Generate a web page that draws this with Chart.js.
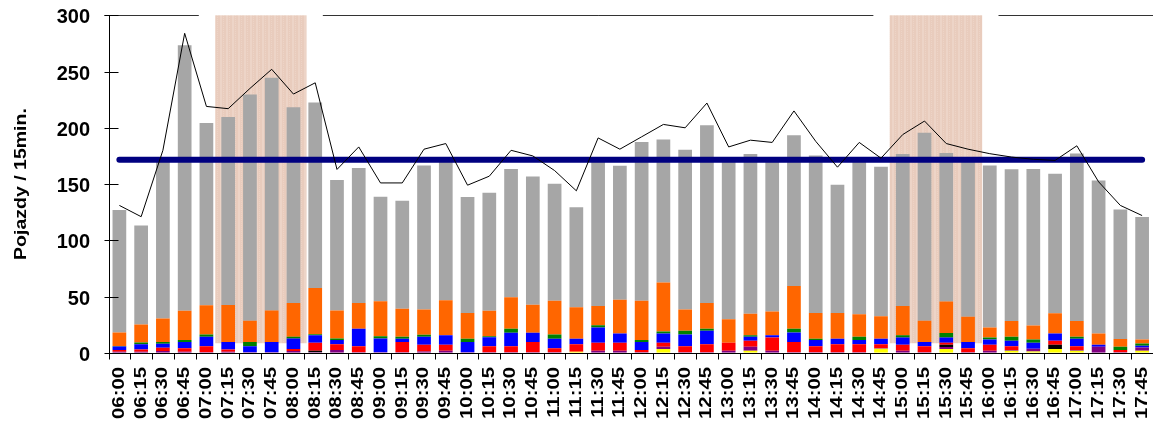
<!DOCTYPE html>
<html>
<head>
<meta charset="utf-8">
<script src="https://cdn.jsdelivr.net/npm/chart.js@4.4.1/dist/chart.umd.min.js"></script>
<style>
  html, body { margin: 0; padding: 0; background: #fff; }
  canvas { display: block; }
</style>
</head>
<body>
<canvas id="chart" width="1153" height="423"></canvas>
<script>
// 15-minute intervals
const labels = ['06:00', '06:15', '06:30', '06:45', '07:00', '07:15', '07:30', '07:45',
  '08:00', '08:15', '08:30', '08:45', '09:00', '09:15', '09:30', '09:45',
  '10:00', '10:15', '10:30', '10:45', '11:00', '11:15', '11:30', '11:45',
  '12:00', '12:15', '12:30', '12:45', '13:00', '13:15', '13:30', '13:45',
  '14:00', '14:15', '14:30', '14:45', '15:00', '15:15', '15:30', '15:45',
  '16:00', '16:15', '16:30', '16:45', '17:00', '17:15', '17:30', '17:45'];

// stacked segments, bottom to top
const yellowVals = [0, 0, 0, 0, 0, 0, 0, 0, 0, 0, 0, 0, 0, 0, 0, 0,
  0, 0, 0, 0, 0, 0.9, 0, 0, 0, 3.3, 0, 0, 0, 1.8, 0, 0,
  0, 0, 0, 3.5, 0, 0, 3.3, 0, 0, 1.8, 1.2, 3.3, 1.8, 0, 0, 1.8];
const purpleVals = [1, 1, 1.5, 0.9, 0.6, 0.9, 0.6, 0.6, 1.5, 0.6, 2.4, 0.6, 0.6, 0.6, 1.2, 1.8,
  0.6, 0.6, 0.6, 0.6, 0.6, 0, 1.8, 1.8, 0.6, 2, 0.6, 0.6, 1.8, 3.5, 1.8, 0.6,
  0.6, 0.6, 0.6, 0.6, 1.8, 0.6, 1.8, 0.6, 1.8, 0.6, 2.3, 0, 0.6, 5.3, 0.6, 2.9];
const blackVals = [0, 0, 0, 0, 0, 0, 0, 0, 0, 1.2, 0, 0, 0, 0, 0, 0,
  0, 0, 0, 0, 0, 0, 0, 0, 0, 0, 0, 0, 0, 0, 0, 0,
  0, 0, 0, 0, 0, 0, 2, 0, 0, 0, 0, 3.8, 0, 0, 0, 0];
const redVals = [1.5, 2, 3, 3.2, 5.3, 2.1, 0, 0, 1.8, 7.1, 5.3, 5.3, 0, 8.9, 5.9, 5.3,
  0, 5.3, 5.3, 8.9, 3.5, 6.8, 7.1, 7.1, 1.8, 3.6, 5.3, 7.1, 7.1, 5.4, 11.8, 8.9,
  5.3, 7.1, 7.1, 3.6, 5.3, 5.3, 1.8, 3.5, 5.3, 3.5, 0, 3.6, 3.5, 0, 1.8, 0];
const blueVals = [3, 4.7, 3.5, 5.4, 8.3, 6.5, 5.3, 8.9, 9.4, 6.8, 3.6, 15.4, 12.1, 2.9, 7.1, 8.6,
  8.9, 8, 11.9, 8.3, 8.3, 4.7, 13.6, 8.3, 7.1, 8.3, 10.4, 11.9, 0, 3.5, 2.1, 8.6,
  5.4, 4.7, 3.6, 4.7, 6.5, 3.6, 4.7, 5.4, 4.7, 4.8, 5.4, 6.5, 6.5, 1.8, 0, 1.5];
const greenVals = [0.5, 1.5, 1.5, 1.8, 2.1, 0, 3.6, 0, 1.5, 0.9, 1.4, 0, 2.1, 1.8, 1.8, 0,
  2.9, 0.9, 3.5, 0, 3.9, 0, 2.1, 0, 1.8, 1.8, 3.3, 1.7, 0, 1.5, 0, 3.2,
  1.1, 0, 2.9, 0, 2.1, 0, 3.9, 0, 1.8, 3.5, 2.9, 0, 1.8, 0, 2.9, 2.1];
const orangeVals = [12, 16, 21, 26, 26, 33, 19, 28, 30, 41, 25, 23, 31, 25, 22.5, 31,
  23, 22.5, 28, 25, 30, 28, 17, 30, 35, 43.5, 19, 23, 21, 19, 21, 38,
  23, 23, 20, 20, 26, 19, 28, 22.5, 9, 14, 12.5, 18, 14, 10, 7, 3.5];
const greyVals = [109, 88, 141, 236, 162, 167, 201, 207, 174, 165, 116, 120, 93, 96, 128, 123,
  103, 105, 114, 114, 104, 89, 128, 119, 141, 127, 142, 158, 141, 142, 134, 134,
  140, 114, 139, 133, 135, 167, 132, 140, 144, 135, 139, 124, 149, 136, 115, 109];

// thin black line and the flat average
const lineVals = [131, 121, 180, 284, 219, 217, 235, 252, 230, 240, 163, 183, 151, 151, 181, 186,
  149, 157, 180, 175, 162, 144, 191, 181, 192, 203, 200, 222, 183, 189, 187, 215,
  188, 165, 187, 173, 194, 206, 186, 181, 177, 174, 172, 171, 184, 152, 131, 122];
const avgValue = 171.6;

const yTicks = [0, 50, 100, 150, 200, 250, 300];
// shaded peak periods, in category units
const peakRanges = [[4.4, 8.6], [35.4, 39.65]];

const FONT = '"Liberation Sans", Arial, sans-serif';

function makePattern() {
    const c = document.createElement('canvas');
    c.width = 6; c.height = 2;
    const g = c.getContext('2d');
    g.fillStyle = '#E9CCBD';
    g.fillRect(0, 0, 6, 2);
    g.fillStyle = '#EDD4C7';
    g.fillRect(4, 0, 2, 2);
    g.fillRect(1, 1, 1, 1);
    return c;
}

const axesPlugin = {
    id: 'axesPlugin',
    beforeDatasetsDraw(chart) {
        const { ctx, scales: { x, y } } = chart;
        ctx.save();
        ctx.fillStyle = ctx.createPattern(makePattern(), 'repeat');
        peakRanges.forEach(([a, b]) => {
            const x0 = x.getPixelForValue(a), x1 = x.getPixelForValue(b);
            const y0 = y.getPixelForValue(300), y1 = y.getPixelForValue(8.5);
            ctx.fillRect(x0, y0, x1 - x0, y1 - y0);
        });
        ctx.restore();
    },
    afterDatasetsDraw(chart) {
        const { ctx, chartArea, scales: { x, y } } = chart;
        const left = Math.round(chartArea.left) + 0.5;
        const y0 = Math.round(y.getPixelForValue(0)) + 0.5;
        const yTop = Math.round(y.getPixelForValue(300)) + 0.5;
        ctx.save();
        ctx.lineWidth = 1;

        // top line at 300 with gaps around the shaded blocks
        ctx.strokeStyle = '#333';
        let start = left - 5;
        peakRanges.forEach(([a, b]) => {
            const g0 = x.getPixelForValue(a - 0.75), g1 = x.getPixelForValue(b + 0.75);
            ctx.beginPath(); ctx.moveTo(start, yTop); ctx.lineTo(g0, yTop); ctx.stroke();
            start = g1;
        });
        ctx.beginPath(); ctx.moveTo(start, yTop); ctx.lineTo(chart.width, yTop); ctx.stroke();

        // axes
        ctx.strokeStyle = '#000';
        ctx.beginPath();
        ctx.moveTo(left, yTop); ctx.lineTo(left, y0);
        ctx.lineTo(chart.width, y0);
        ctx.stroke();

        // y ticks and labels
        ctx.font = 'bold 20px ' + FONT;
        ctx.fillStyle = '#000';
        ctx.textAlign = 'right';
        ctx.textBaseline = 'middle';
        yTicks.forEach(v => {
            const py = Math.round(y.getPixelForValue(v)) + 0.5;
            ctx.beginPath(); ctx.moveTo(left - 5, py); ctx.lineTo(left + 9, py); ctx.stroke();
            ctx.fillText(String(v), 90, py + 1.5);
        });

        // x ticks between categories
        for (let i = 0; i <= labels.length; i++) {
            const px = Math.round(x.getPixelForValue(i - 0.5)) + 0.5;
            ctx.beginPath(); ctx.moveTo(px, y0); ctx.lineTo(px, y0 + 6); ctx.stroke();
        }

        // x labels, rotated
        ctx.font = 'bold 16px ' + FONT;
        labels.forEach((lab, i) => {
            const px = x.getPixelForValue(i);
            ctx.save();
            ctx.translate(px, 367);
            ctx.rotate(-Math.PI / 2);
            ctx.scale(1.27, 1);
            ctx.textAlign = 'right';
            ctx.textBaseline = 'middle';
            ctx.fillText(lab, 0, 0);
            ctx.restore();
        });

        // y title
        ctx.font = 'bold 16px ' + FONT;
        ctx.save();
        ctx.translate(22, (chartArea.top + chartArea.bottom) / 2);
        ctx.rotate(-Math.PI / 2);
        ctx.scale(1.22, 1);
        ctx.textAlign = 'center';
        ctx.textBaseline = 'middle';
        ctx.fillText('Pojazdy / 15min.', 0, 0);
        ctx.restore();

        ctx.restore();
    }
};

const barSet = (data, color) => ({
    type: 'bar', data, backgroundColor: color, stack: 'v', order: 2,
    barPercentage: 0.63, categoryPercentage: 1.0, borderWidth: 0
});

new Chart(document.getElementById('chart'), {
    data: {
        labels,
        datasets: [
            barSet(yellowVals, '#FFFF00'),
            barSet(purpleVals, '#800080'),
            barSet(blackVals, '#000000'),
            barSet(redVals, '#FF0000'),
            barSet(blueVals, '#0000FF'),
            barSet(greenVals, '#008000'),
            barSet(orangeVals, '#FF6600'),
            barSet(greyVals, '#A6A6A6'),
            {
                type: 'line', data: labels.map(() => avgValue), stack: 'avg', order: 1,
                borderColor: '#000080', borderWidth: 6, borderCapStyle: 'round',
                pointRadius: 0, tension: 0
            },
            {
                type: 'line', data: lineVals, stack: 'total', order: 0,
                borderColor: '#000', borderWidth: 1, pointRadius: 0, tension: 0
            }
        ]
    },
    options: {
        responsive: false,
        animation: false,
        devicePixelRatio: 1,
        layout: { padding: { left: 108.5, right: -1, top: 15.3, bottom: 70.2 } },
        plugins: { legend: { display: false }, tooltip: { enabled: false } },
        scales: {
            x: { display: false, stacked: true, offset: true },
            y: { display: false, stacked: true, min: 0, max: 300 }
        }
    },
    plugins: [axesPlugin]
});
</script>
</body>
</html>
